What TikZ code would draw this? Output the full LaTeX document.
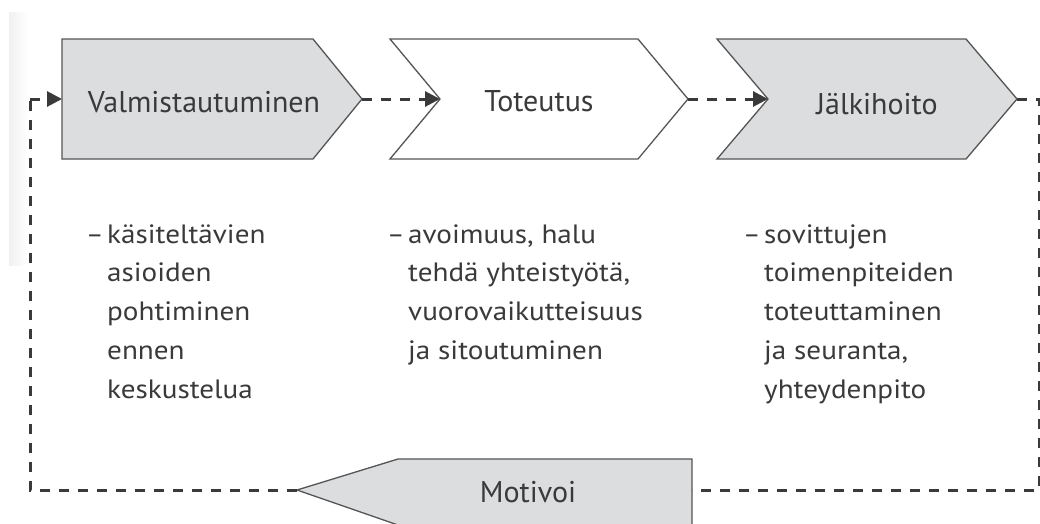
\documentclass[tikz,border=0pt]{standalone}
\usepackage{fontspec}
\setmainfont{PT Sans}
\newfontfamily\bodyfont[FakeStretch=1.1]{PT Sans}
\usetikzlibrary{arrows.meta}
\setlength{\parindent}{0pt}
\definecolor{fillgrey}{HTML}{DCDDDF}
\definecolor{edgegrey}{HTML}{555555}
\definecolor{txt}{HTML}{3A3A3A}
\definecolor{shade}{HTML}{F1F1F1}
\tikzset{
  chev/.style={draw=edgegrey, line width=1.3pt, line join=miter},
  link/.style={draw=txt, line width=3pt, dash pattern=on 10pt off 9pt},
  arr/.style={link, -{Triangle[length=15pt,width=15pt]}},
  title/.style={text=txt, font=\fontsize{30}{36}\selectfont, inner sep=0pt, anchor=base},
  body/.style={text=txt, font=\bodyfont\fontsize{26.5}{38.7}\selectfont, align=left, anchor=north west, inner sep=0pt},
  bullet/.style={text=txt, font=\fontsize{26.5}{38.7}\selectfont, anchor=north west, inner sep=0pt}
}
\begin{document}
\begin{tikzpicture}[x=1pt,y=-1pt]
\useasboundingbox (0,0) rectangle (1040,523);
\fill[white] (0,0) rectangle (1040,523);
\shade[left color=shade, right color=white] (9,12) rectangle (28,265);
% chevrons
\draw[chev, fill=fillgrey] (62,39) -- (313,39) -- (362,99) -- (313,159) -- (62,159) -- cycle;
\draw[chev, fill=white] (390,39) -- (638,39) -- (688,99) -- (638,159) -- (390,159) -- (440,99) -- cycle;
\draw[chev, fill=fillgrey] (717,39) -- (966,39) -- (1017,99) -- (966,159) -- (717,159) -- (768,99) -- cycle;
\draw[chev, fill=fillgrey] (297,490) -- (398,459) -- (692,459) -- (692,525) -- (398,525) -- cycle;
% anchor points
\coordinate (in1) at (62,99);
\coordinate (out1) at (362,99);
\coordinate (in2) at (440,99);
\coordinate (out2) at (688,99);
\coordinate (in3) at (768,99);
\coordinate (out3) at (1017,99);
\coordinate (mtip) at (297,490);
\coordinate (mright) at (692,490);
\coordinate (cr) at (1039,99);
\coordinate (crb) at (1039,490);
\coordinate (cl) at (30,490);
\coordinate (clt) at (30,99);
% titles
\node[title] (t1) at (204,112) {Valmistautuminen};
\node[title] (t2) at (539,111) {Toteutus};
\node[title] (t3) at (877,114) {Jälkihoito};
\node[title] (t4) at (528,502) {Motivoi};
% connectors
\draw[arr] (out1) -- (in2);
\draw[arr] (out2) -- (in3);
\draw[link] (out3) -- (cr) -- (crb) -- (mright);
\draw[link] (mtip) -- (cl) -- (clt);
\draw[arr] (clt) -- (in1);
% body texts
\node[bullet] (d1) at (86,216) {\strut–};
\node[bullet] (d2) at (387,216) {\strut–};
\node[bullet] (d3) at (743,216) {\strut–};
\node[body] (b1) at (107,216) {\strut käsiteltävien\\asioiden\\pohtiminen\\ennen\\keskustelua};
\node[body] (b2) at (408,216) {\strut avoimuus, halu\\tehdä yhteistyötä,\\vuorovaikutteisuus\\ja sitoutuminen};
\node[body] (b3) at (764,216) {\strut sovittujen\\toimenpiteiden\\toteuttaminen\\ja seuranta,\\yhteydenpito};
\end{tikzpicture}
\end{document}
